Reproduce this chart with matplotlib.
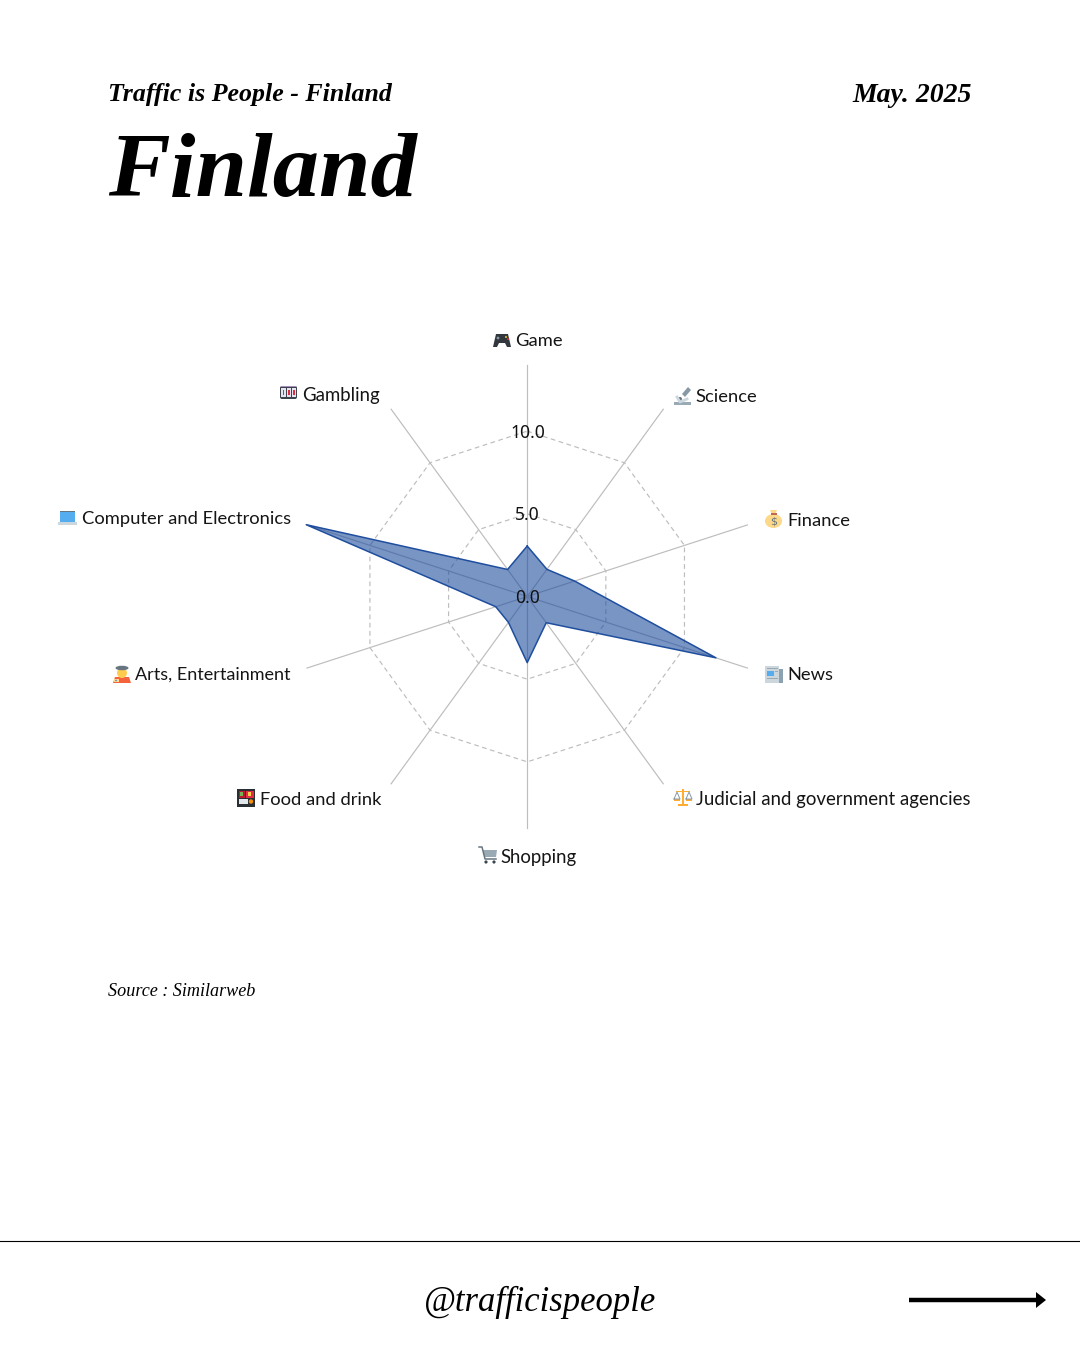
import numpy as np
import matplotlib
matplotlib.use("Agg")
import matplotlib.pyplot as plt
from matplotlib.patches import Rectangle, Circle, Polygon, Ellipse, FancyBboxPatch

# ---- data ----
categories = ["Game", "Science", "Finance", "News", "Judicial and government agencies",
              "Shopping", "Food and drink", "Arts, Entertainment",
              "Computer and Electronics", "Gambling"]
values = [3.05, 2.03, 3.02, 12.0, 1.96, 4.0, 1.93, 2.0, 14.05, 2.02]
ring_values = [5.0, 10.0]
tick_values = [0.0, 5.0, 10.0]
axis_max = 14.0

title_small = "Traffic is People - Finland"
title_big = "Finland"
date_label = "May. 2025"
source_label = "Source : Similarweb"
handle_label = "@trafficispeople"

# ---- layout (pixels) ----
W, H = 1080, 1350
CX, CY, R = 527.2, 596.5, 231.5
label_xy = {
    "Game": (515, 341), "Science": (695, 397), "Finance": (787, 521), "News": (787, 675),
    "Judicial and government agencies": (696.5, 799), "Shopping": (500, 857),
    "Food and drink": (260, 800), "Arts, Entertainment": (135, 675),
    "Computer and Electronics": (82, 519), "Gambling": (302, 395),
}
SERIF = "Liberation Serif"
SANS = "Lato"
LABEL_PT = 13.2
label_pt_override = {"Judicial and government agencies": 13.4, "Arts, Entertainment": 13.0,
                     "Gambling": 13.4, "Shopping": 13.4}

fig = plt.figure(figsize=(W / 100, H / 100), dpi=100, facecolor="white")

# overlay canvas in pixel coordinates
bg = fig.add_axes([0, 0, 1, 1])
bg.set_xlim(0, W)
bg.set_ylim(H, 0)
bg.axis("off")

# ---- radar ----
ax = fig.add_axes([(CX - R) / W, 1 - (CY + R) / H, 2 * R / W, 2 * R / H], projection="polar")
ax.patch.set_alpha(0)
ax.set_theta_zero_location("N")
ax.set_theta_direction(-1)
ax.set_ylim(0, axis_max)
ax.spines["polar"].set_visible(False)
ax.grid(False)
ax.set_xticks([])
ax.set_yticks([])

theta = np.deg2rad(np.arange(len(categories)) * 360.0 / len(categories))
theta_closed = np.append(theta, theta[0])

for t in theta:
    ax.plot([t, t], [0, axis_max], color="#bdbdbd", lw=0.85, zorder=1, clip_on=False)
for rv in ring_values:
    ax.plot(theta_closed, [rv] * len(theta_closed), color="#bdbdbd", lw=0.85,
            ls=(0, (4, 3)), zorder=1)

vals_closed = np.append(values, values[0])
ax.fill(theta_closed, vals_closed, color="#1f4e9e", alpha=0.6, lw=0, zorder=2)
ax.plot(theta_closed, vals_closed, color="#1f4e9e", lw=1.1, zorder=3, clip_on=False)

for tv in tick_values:
    ax.annotate(f"{tv:.1f}", xy=(0, tv), xytext=(0.3, -1.1), textcoords="offset points",
                ha="center", va="center", family="Noto Sans",
                fontsize=12.6, color="#111111", zorder=4)

# ---- headings ----
bg.text(108, 95, title_small, family=SERIF, weight="bold", style="italic", fontsize=18.6,
        va="center", ha="left", color="black")
bg.text(972, 95, date_label, family=SERIF, weight="bold", style="italic", fontsize=20,
        va="center", ha="right", color="black")
bg.text(108, 174, title_big, family=SERIF, weight="bold", style="italic", fontsize=66.6,
        va="center", ha="left", color="black")
bg.text(108, 991, source_label, family=SERIF, style="italic", fontsize=13.1,
        va="center", ha="left", color="black")

# ---- footer ----
bg.plot([0, W], [1240.8, 1240.8], color="black", lw=0.8)
bg.text(540, 1302, handle_label, family=SERIF, style="italic", fontsize=24.9,
        va="center", ha="center", color="black")
bg.plot([909, 1038], [1300, 1300], color="black", lw=3.2, solid_capstyle="butt")
bg.add_patch(Polygon([(1036, 1292), (1046, 1300), (1036, 1308)], closed=True, color="black", lw=0))

# ---- category labels ----
for name in categories:
    x, y = label_xy[name]
    bg.text(x, y, name, family=SANS, fontsize=label_pt_override.get(name, LABEL_PT),
            va="center", ha="left", color="#151515")


# ---- pictograms standing in for the colour emoji ----
def rect(x, y, w, h, c):
    bg.add_patch(Rectangle((x, y), w, h, color=c, lw=0))


def circ(x, y, r, c):
    bg.add_patch(Circle((x, y), r, color=c, lw=0))


def poly(pts, c):
    bg.add_patch(Polygon(pts, closed=True, color=c, lw=0))


def game(x, y):
    poly([(x, y + 7), (x + 3, y - 6), (x + 15, y - 6), (x + 18, y + 7), (x + 14, y + 7),
          (x + 12, y + 3), (x + 6, y + 3), (x + 4, y + 7)], "#31373d")
    circ(x + 13, y - 3, 1, "#f4c534")
    circ(x + 15, y - 1, 1, "#dd2e44")
    circ(x + 5, y - 2, 1.4, "#8899a6")


def science(x, y):
    rect(x, y + 6, 17, 3, "#99aab5")
    poly([(x + 8, y - 2), (x + 14, y - 9), (x + 17, y - 6), (x + 11, y + 1)], "#8899a6")
    bg.plot([x + 3, x + 6, x + 13], [y + 1, y + 6, y + 3], color="#ccd6dd", lw=2)
    circ(x + 6, y + 3, 2, "#66757f")


def finance(x, y):
    bg.add_patch(Ellipse((x + 8.5, y + 2), 17, 14, color="#fdd888", lw=0))
    poly([(x + 5, y - 9), (x + 12, y - 9), (x + 10, y - 4), (x + 7, y - 4)], "#fdd888")
    rect(x + 5.5, y - 6, 6, 1.6, "#bf6952")
    bg.text(x + 8.5, y + 2, "$", family="DejaVu Sans", fontsize=8, ha="center", va="center",
            color="#67757f")


def news(x, y):
    rect(x + 12, y - 5, 6, 14, "#8da2b0")
    rect(x, y - 8, 14, 17, "#ccd6dd")
    rect(x + 1.5, y - 3, 7, 5, "#55acee")
    rect(x + 1.5, y - 6.5, 11, 1.2, "#99aab5")
    rect(x + 9.5, y - 3, 3, 1, "#99aab5")
    rect(x + 1.5, y + 4, 11, 1, "#99aab5")


def scales(x, y):
    rect(x + 8, y - 8, 2, 16, "#ffac33")
    rect(x + 2, y - 6, 14, 1.4, "#ffac33")
    rect(x + 4, y + 7, 10, 2, "#ffac33")
    bg.plot([x, x + 3, x + 6, x], [y + 2, y - 5, y + 2, y + 2], color="#8899a6", lw=0.7)
    bg.plot([x + 12, x + 15, x + 18, x + 12], [y + 2, y - 5, y + 2, y + 2], color="#8899a6", lw=0.7)
    rect(x, y + 2, 6, 2, "#ffac33")
    rect(x + 12, y + 2, 6, 2, "#ffac33")


def cart(x, y):
    bg.plot([x, x + 3, x + 6, x + 17], [y - 8, y - 8, y + 4, y + 4], color="#66757f", lw=1.1)
    poly([(x + 4, y - 5), (x + 18, y - 5), (x + 17, y + 2), (x + 5.5, y + 2)], "#99aab5")
    circ(x + 7, y + 7, 1.6, "#3b454d")
    circ(x + 15, y + 7, 1.6, "#3b454d")


def bento(x, y):
    rect(x, y - 9, 18, 18, "#292f33")
    rect(x + 1.5, y - 7.5, 6.5, 7, "#be1931")
    rect(x + 9, y - 7.5, 7.5, 7, "#dd2e44")
    rect(x + 3, y - 6, 3, 3.5, "#77b255")
    rect(x + 11, y - 6, 3, 3.5, "#ffcc4d")
    rect(x + 1.5, y + 1, 9.5, 5, "#e1e8ed")
    circ(x + 14, y + 3.5, 2.2, "#f4900c")


def artist(x, y):
    poly([(x, y + 9), (x + 2, y + 3), (x + 16, y + 3), (x + 18, y + 9)], "#f4633c")
    circ(x + 9, y - 1, 5, "#ffcc4d")
    bg.add_patch(Ellipse((x + 9, y - 6), 13, 4.5, color="#66757f", lw=0))
    rect(x + 1, y + 5, 5, 3, "#ffd98c")
    circ(x + 3, y + 6.5, 0.8, "#3b88c3")


def laptop(x, y):
    rect(x + 2, y - 7, 15, 11, "#55acee")
    rect(x + 2, y - 7, 15, 1, "#67757f")
    rect(x, y + 4, 19, 3, "#ccd6dd")


def slots(x, y):
    bg.add_patch(FancyBboxPatch((x + 1, y - 7), 17, 13, boxstyle="round,pad=0,rounding_size=2",
                                color="#3b454d", lw=0))
    for dx in (2.2, 7.6, 13):
        rect(x + dx, y - 5, 4.4, 9, "#e8e4ef")
        rect(x + dx + 1.4, y - 3, 1.6, 4.5, "#dd2e44")
    rect(x + 2, y - 7, 15, 1, "#a78bbd")


icon_makers = {
    "Game": (game, 493, 340), "Science": (science, 674, 396), "Finance": (finance, 765, 519),
    "News": (news, 765, 674), "Judicial and government agencies": (scales, 674, 797),
    "Shopping": (cart, 479, 855), "Food and drink": (bento, 237, 798),
    "Arts, Entertainment": (artist, 113, 674), "Computer and Electronics": (laptop, 58, 518),
    "Gambling": (slots, 279, 393),
}
for name in categories:
    fn, ix, iy = icon_makers[name]
    fn(ix, iy)

fig.savefig("out.png", dpi=100, facecolor="white")
